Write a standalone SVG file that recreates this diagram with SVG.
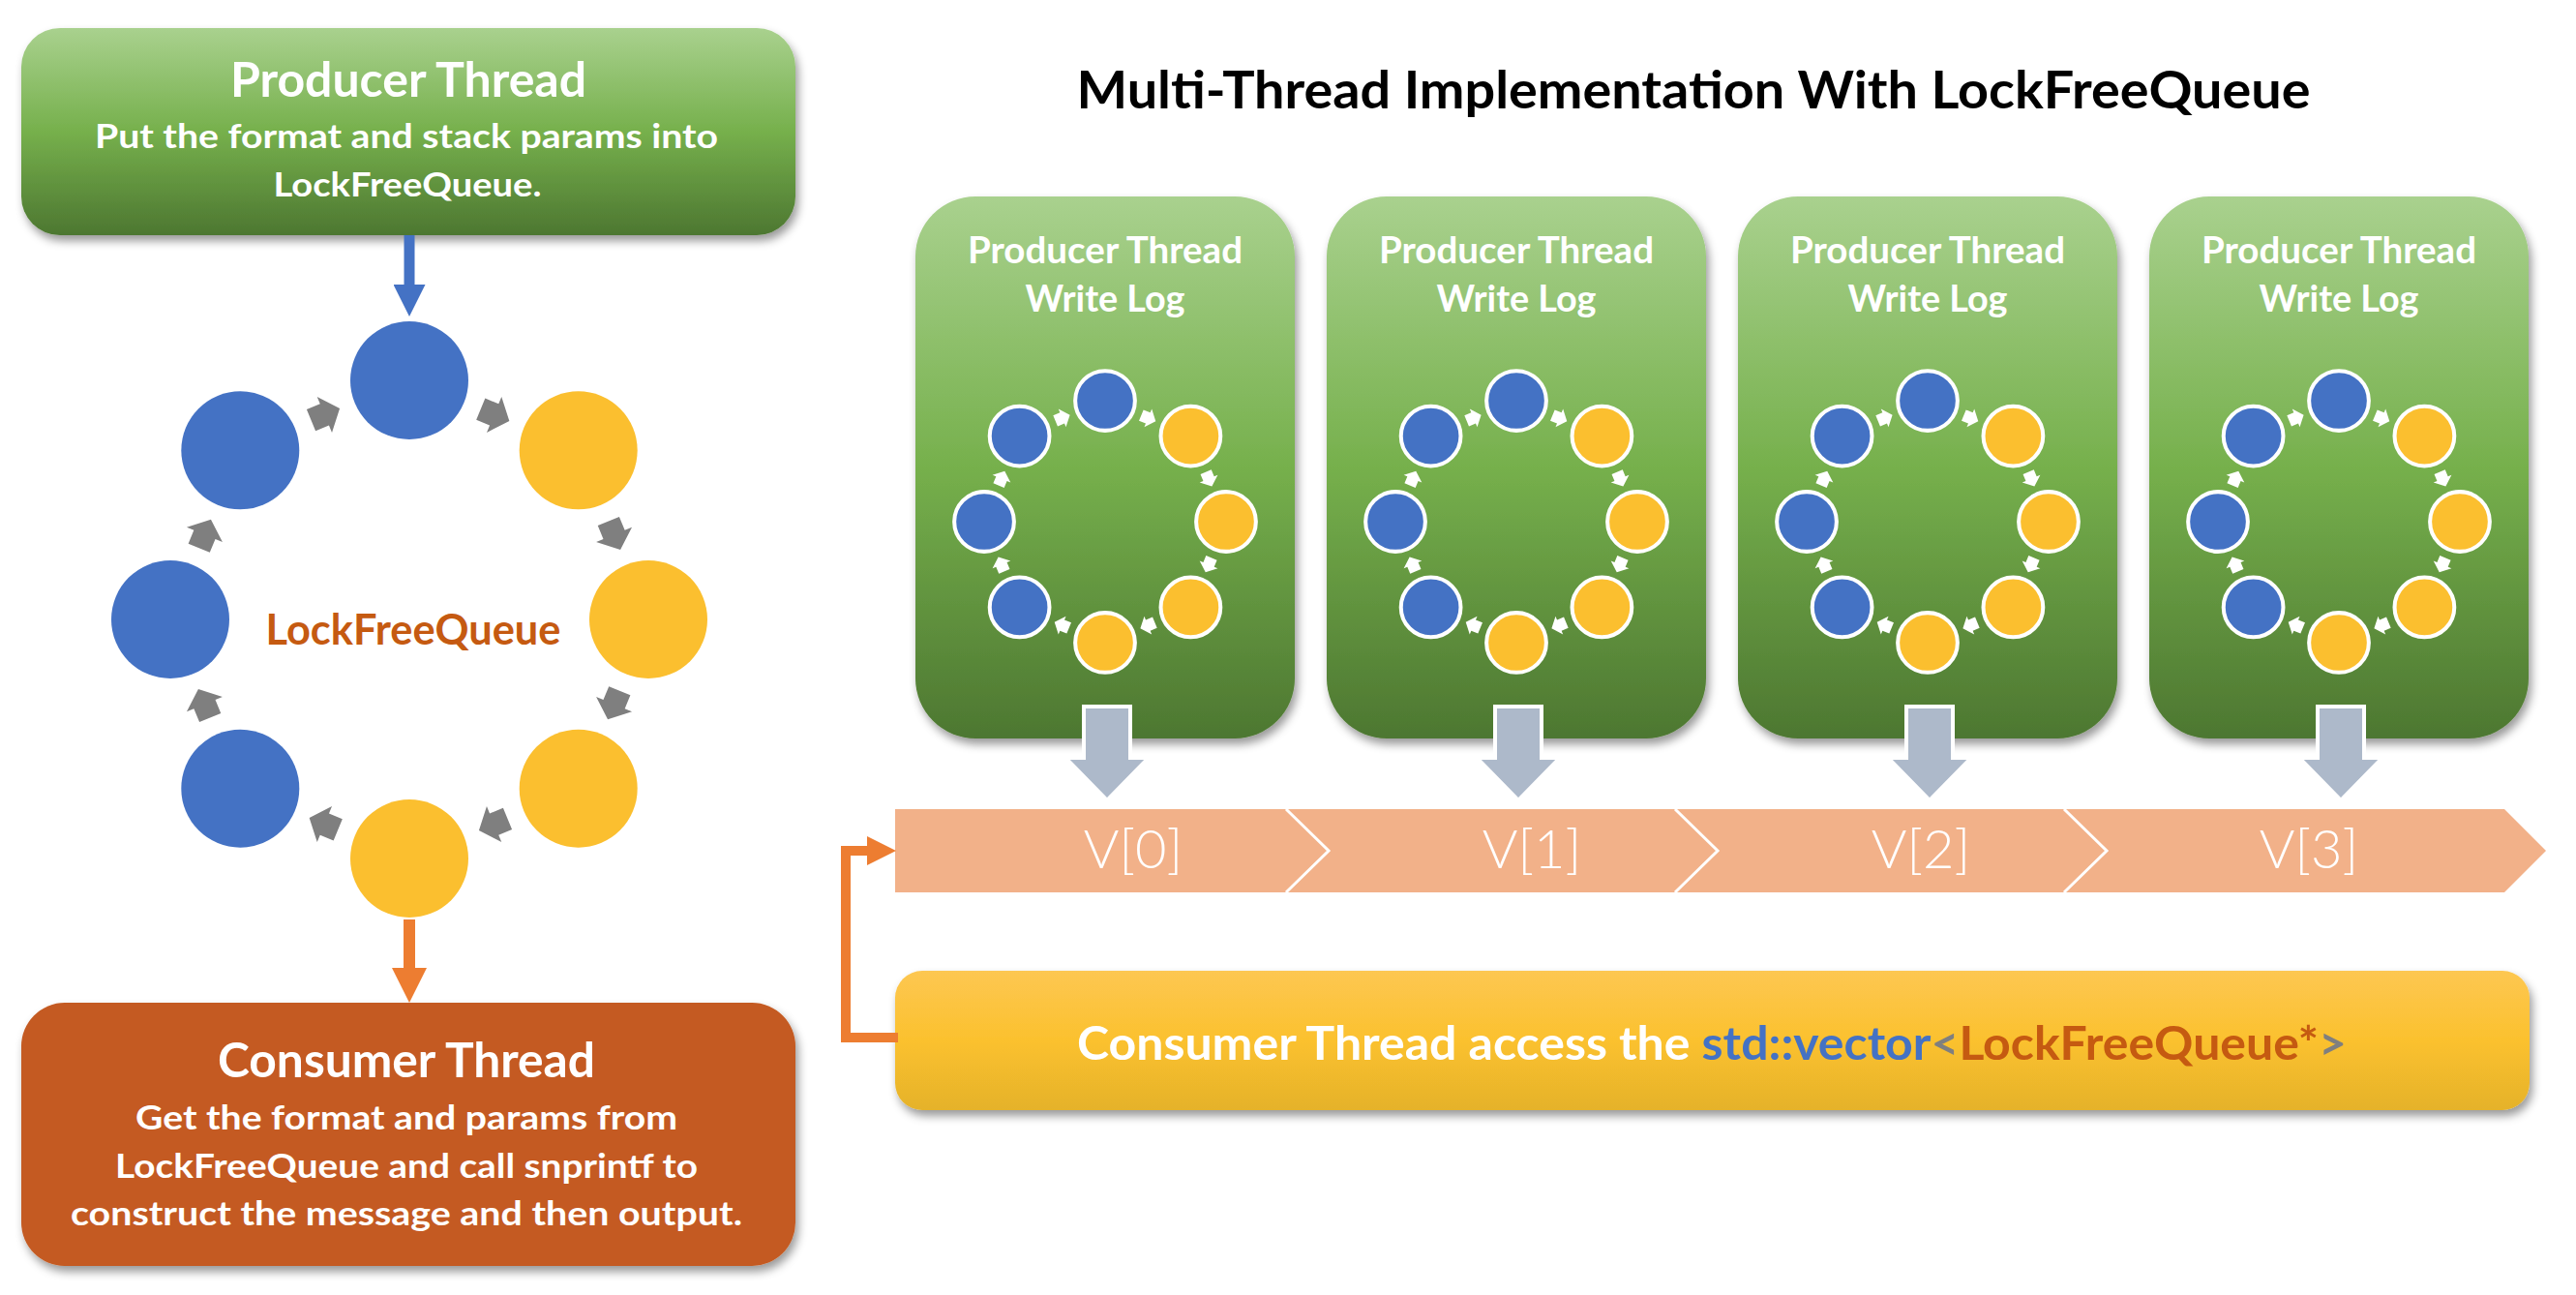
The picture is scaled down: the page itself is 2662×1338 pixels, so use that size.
<svg xmlns="http://www.w3.org/2000/svg" xmlns:xlink="http://www.w3.org/1999/xlink" width="2662" height="1338" viewBox="0 0 2662 1338">
<style>
text{font-family:Lato,"Open Sans","Noto Sans",sans-serif;font-weight:700;text-anchor:middle}
.w{fill:#fff}
.ttl{font-size:49px}
.sub{font-size:35px}
.rt{font-size:38px}
.v{font-size:56px;font-weight:300;fill:#fff}
.blue{fill:#4472C4}
.yel{fill:#FBBF2F}
</style>
<defs>
<linearGradient id="gGreen" x1="0" y1="0" x2="0" y2="1">
<stop offset="0" stop-color="#A9D18E"/>
<stop offset="0.5" stop-color="#76B04C"/>
<stop offset="1" stop-color="#4D7731"/>
</linearGradient>
<linearGradient id="gYellow" x1="0" y1="0" x2="0" y2="1">
<stop offset="0" stop-color="#FDC752"/>
<stop offset="0.5" stop-color="#FBC12E"/>
<stop offset="1" stop-color="#E5B22B"/>
</linearGradient>
<filter id="shadow" x="-10%" y="-10%" width="120%" height="130%">
<feDropShadow dx="3" dy="6" stdDeviation="5" flood-color="#000" flood-opacity="0.4"/>
</filter>
<marker id="head" viewBox="0 0 3 3" refX="0" refY="1.5" markerWidth="3" markerHeight="3" orient="auto" markerUnits="strokeWidth">
<path d="M0,0 L3,1.5 L0,3 Z" fill="context-stroke"/>
</marker>
<marker id="headB" viewBox="0 0 3 3" refX="0" refY="1.5" markerWidth="3" markerHeight="3" orient="auto" markerUnits="strokeWidth">
<path d="M0,0 L3,1.5 L0,3 Z" fill="#4472C4"/>
</marker>
<marker id="headO" viewBox="0 0 3 3" refX="0" refY="1.5" markerWidth="3" markerHeight="3" orient="auto" markerUnits="strokeWidth">
<path d="M0,0 L3,1.5 L0,3 Z" fill="#ED7D31"/>
</marker>
<path id="arr" d="M-15,-12 L0,-12 L0,-20 L17,0 L0,20 L0,12 L-15,12 Z" stroke="none"/>
<g id="ring">
<circle class="blue" cx="0" cy="-247" r="61"/>
<circle class="yel" cx="174.7" cy="-174.7" r="61"/>
<circle class="yel" cx="247" cy="0" r="61"/>
<circle class="yel" cx="174.7" cy="174.7" r="61"/>
<circle class="yel" cx="0" cy="247" r="61"/>
<circle class="blue" cx="-174.7" cy="174.7" r="61"/>
<circle class="blue" cx="-247" cy="0" r="61"/>
<circle class="blue" cx="-174.7" cy="-174.7" r="61"/>
<use xlink:href="#arr" transform="rotate(22.5) translate(0,-229)"/>
<use xlink:href="#arr" transform="rotate(67.5) translate(0,-229)"/>
<use xlink:href="#arr" transform="rotate(112.5) translate(0,-229)"/>
<use xlink:href="#arr" transform="rotate(157.5) translate(0,-229)"/>
<use xlink:href="#arr" transform="rotate(202.5) translate(0,-229)"/>
<use xlink:href="#arr" transform="rotate(247.5) translate(0,-229)"/>
<use xlink:href="#arr" transform="rotate(292.5) translate(0,-229)"/>
<use xlink:href="#arr" transform="rotate(337.5) translate(0,-229)"/>
</g>
<polygon id="down" points="-24,0 24,0 24,53 43,53 0,97 -43,53 -24,53" fill="#ADB9CA" stroke="#fff" stroke-width="4"/>
</defs>

<rect width="2662" height="1338" fill="#fff"/>

<text x="1750" y="112" style="font-size:53px" textLength="1275" lengthAdjust="spacingAndGlyphs">Multi-Thread Implementation With LockFreeQueue</text>

<g id="producer-left">
<rect x="22" y="29" width="800" height="214" rx="40" fill="url(#gGreen)" filter="url(#shadow)"/>
<text class="w ttl" x="422" y="100" textLength="368" lengthAdjust="spacingAndGlyphs">Producer Thread</text>
<text class="w sub" x="420" y="153" textLength="644" lengthAdjust="spacingAndGlyphs">Put the format and stack params into</text>
<text class="w sub" x="421" y="203" textLength="277" lengthAdjust="spacingAndGlyphs">LockFreeQueue.</text>
</g>

<g id="queue-left">
<use xlink:href="#ring" transform="translate(423,640)" fill="#7F7F7F"/>
<text x="427" y="666" style="font-size:43px;fill:#C55A11" textLength="305" lengthAdjust="spacingAndGlyphs">LockFreeQueue</text>
</g>

<g id="consumer-left">
<rect x="22" y="1036" width="800" height="272" rx="45" fill="#C45A20" filter="url(#shadow)"/>
<text class="w ttl" x="420" y="1113" textLength="390" lengthAdjust="spacingAndGlyphs">Consumer Thread</text>
<text class="w sub" x="420" y="1167" textLength="560" lengthAdjust="spacingAndGlyphs">Get the format and params from</text>
<text class="w sub" x="420" y="1217" textLength="602" lengthAdjust="spacingAndGlyphs">LockFreeQueue and call snprintf to</text>
<text class="w sub" x="420" y="1266" textLength="694" lengthAdjust="spacingAndGlyphs">construct the message and then output.</text>
</g>

<g id="producer-0">
<rect x="946" y="203" width="392" height="560" rx="62" fill="url(#gGreen)" filter="url(#shadow)"/>
<text class="w rt" x="1142" y="272" textLength="284" lengthAdjust="spacingAndGlyphs">Producer Thread</text>
<text class="w rt" x="1142" y="322" textLength="165" lengthAdjust="spacingAndGlyphs">Write Log</text>
<use xlink:href="#ring" transform="translate(1142,539) scale(0.506)" fill="#fff" stroke="#fff" stroke-width="8"/>
</g>
<g id="producer-1">
<rect x="1371" y="203" width="392" height="560" rx="62" fill="url(#gGreen)" filter="url(#shadow)"/>
<text class="w rt" x="1567" y="272" textLength="284" lengthAdjust="spacingAndGlyphs">Producer Thread</text>
<text class="w rt" x="1567" y="322" textLength="165" lengthAdjust="spacingAndGlyphs">Write Log</text>
<use xlink:href="#ring" transform="translate(1567,539) scale(0.506)" fill="#fff" stroke="#fff" stroke-width="8"/>
</g>
<g id="producer-2">
<rect x="1796" y="203" width="392" height="560" rx="62" fill="url(#gGreen)" filter="url(#shadow)"/>
<text class="w rt" x="1992" y="272" textLength="284" lengthAdjust="spacingAndGlyphs">Producer Thread</text>
<text class="w rt" x="1992" y="322" textLength="165" lengthAdjust="spacingAndGlyphs">Write Log</text>
<use xlink:href="#ring" transform="translate(1992,539) scale(0.506)" fill="#fff" stroke="#fff" stroke-width="8"/>
</g>
<g id="producer-3">
<rect x="2221" y="203" width="392" height="560" rx="62" fill="url(#gGreen)" filter="url(#shadow)"/>
<text class="w rt" x="2417" y="272" textLength="284" lengthAdjust="spacingAndGlyphs">Producer Thread</text>
<text class="w rt" x="2417" y="322" textLength="165" lengthAdjust="spacingAndGlyphs">Write Log</text>
<use xlink:href="#ring" transform="translate(2417,539) scale(0.506)" fill="#fff" stroke="#fff" stroke-width="8"/>
</g>

<g id="vector">
<polygon points="925,836 1329,836 1373,879 1329,922 925,922" fill="#F2B189"/>
<polygon points="1329,836 1731,836 1775,879 1731,922 1329,922 1373,879" fill="#F2B189"/>
<polygon points="1731,836 2133,836 2177,879 2133,922 1731,922 1775,879" fill="#F2B189"/>
<polygon points="2133,836 2588,836 2631,879 2588,922 2133,922 2177,879" fill="#F2B189"/>
<g fill="none" stroke="#fff" stroke-width="3">
<polyline points="1329,836 1373,879 1329,922"/>
<polyline points="1731,836 1775,879 1731,922"/>
<polyline points="2133,836 2177,879 2133,922"/>
</g>
<text class="v" x="1171" y="897">V[0]</text>
<text class="v" x="1583" y="897">V[1]</text>
<text class="v" x="1985" y="897">V[2]</text>
<text class="v" x="2386" y="897">V[3]</text>
</g>

<g id="consumer-bar">
<rect x="925" y="1003" width="1689" height="144" rx="28" fill="url(#gYellow)" filter="url(#shadow)"/>
<text x="1769" y="1095" style="font-size:47px" textLength="1312" lengthAdjust="spacingAndGlyphs"><tspan fill="#fff">Consumer Thread access the </tspan><tspan fill="#4472C4">std::vector</tspan><tspan fill="#7F7F7F">&lt;</tspan><tspan fill="#C55A11">LockFreeQueue*</tspan><tspan fill="#7F7F7F">&gt;</tspan></text>
</g>

<g id="connectors">
<line x1="423" y1="243" x2="423" y2="294" stroke="#4472C4" stroke-width="11" marker-end="url(#headB)"/>
<line x1="423" y1="950" x2="423" y2="1000" stroke="#ED7D31" stroke-width="12" marker-end="url(#headO)"/>
<path d="M928,1072 H874 V879 H896" fill="none" stroke="#ED7D31" stroke-width="10" marker-end="url(#headO)"/>
<use xlink:href="#down" x="1144" y="730"/>
<use xlink:href="#down" x="1569" y="730"/>
<use xlink:href="#down" x="1994" y="730"/>
<use xlink:href="#down" x="2419" y="730"/>
</g>
</svg>
